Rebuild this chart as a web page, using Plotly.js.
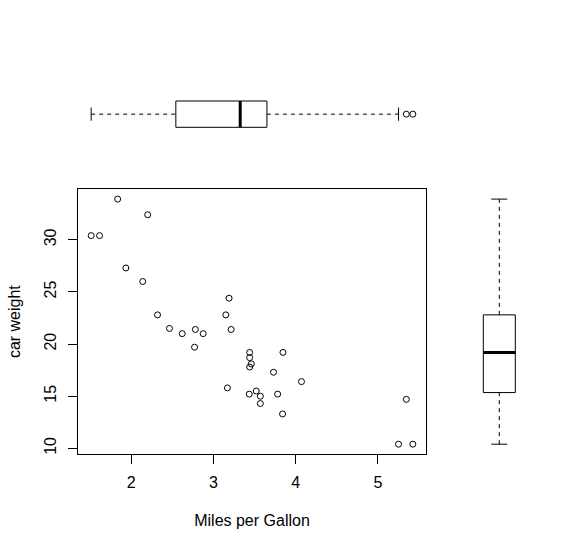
<!DOCTYPE html>
<html>
<head>
<meta charset="utf-8">
<script src="https://cdn.plot.ly/plotly-3.0.1.min.js"></script>
<style>html,body{margin:0;padding:0;background:#fff}#chart{width:582px;height:552px}</style>
</head>
<body>
<div id="chart"></div>
<script>
// mtcars: weight (x axis, labelled "Miles per Gallon") and mpg (y axis, labelled "car weight")
const xValues = [2.620, 2.875, 2.320, 3.215, 3.440, 3.460, 3.570, 3.190, 3.150, 3.440, 3.440, 4.070, 3.730, 3.780, 5.250, 5.424, 5.345, 2.200, 1.615, 1.835, 2.465, 3.520, 3.435, 3.840, 3.845, 1.935, 2.140, 1.513, 3.170, 2.770, 3.570, 2.780];
const yValues = [21.0, 21.0, 22.8, 21.4, 18.7, 18.1, 14.3, 24.4, 22.8, 19.2, 17.8, 16.4, 17.3, 15.2, 10.4, 10.4, 14.7, 32.4, 30.4, 33.9, 21.5, 15.5, 15.2, 13.3, 19.2, 27.3, 26.0, 30.4, 15.8, 19.7, 15.0, 21.4];
const xTicks = [2, 3, 4, 5];
const yTicks = [10, 15, 20, 25, 30];
const xTitle = "Miles per Gallon";
const yTitle = "car weight";

function fivenum(a) {
  const s = a.slice().sort((p, q) => p - q);
  const n = s.length;
  const n4 = Math.floor((n + 3) / 2) / 2;
  const d = [1, n4, (n + 1) / 2, n + 1 - n4, n];
  return d.map(v => 0.5 * (s[Math.floor(v) - 1] + s[Math.ceil(v) - 1]));
}
function boxStats(a) {
  const f = fivenum(a);
  const iqr = f[3] - f[1];
  const lo = f[1] - 1.5 * iqr, hi = f[3] + 1.5 * iqr;
  const inside = a.filter(v => v >= lo && v <= hi);
  return {
    q1: f[1], med: f[2], q3: f[3],
    wlo: Math.min(...inside), whi: Math.max(...inside),
    out: a.filter(v => v < lo || v > hi)
  };
}
function rng(a) {
  const mn = Math.min(...a), mx = Math.max(...a), e = 0.04 * (mx - mn);
  return [mn - e, mx + e];
}

// box plot traces; "horizontal" means values along x
function boxTraces(a, horizontal, xa, ya) {
  const b = boxStats(a);
  const c = 1, w0 = 0.6, w1 = 1.4, s0 = 0.8, s1 = 1.2;
  const solidV = [b.q1, b.q3, b.q3, b.q1, b.q1, null, b.wlo, b.wlo, null, b.whi, b.whi];
  const solidP = [w0, w0, w1, w1, w0, null, s0, s1, null, s0, s1];
  const dashV = [b.wlo, b.q1, null, b.q3, b.whi];
  const dashP = [c, c, null, c, c];
  const medV = [b.med, b.med], medP = [w0, w1];
  const outV = b.out, outP = b.out.map(() => c);
  const mk = (v, p) => horizontal ? {x: v, y: p} : {x: p, y: v};
  const base = {xaxis: xa, yaxis: ya, hoverinfo: 'skip', showlegend: false, cliponaxis: false};
  return [
    Object.assign({}, base, mk(solidV, solidP), {type: 'scatter', mode: 'lines', connectgaps: false, line: {color: '#000', width: 1}}),
    Object.assign({}, base, mk(dashV, dashP), {type: 'scatter', mode: 'lines', connectgaps: false, line: {color: '#000', width: 1, dash: '4px,4px'}}),
    Object.assign({}, base, mk(medV, medP), {type: 'scatter', mode: 'lines', line: {color: '#000', width: 3}}),
    Object.assign({}, base, mk(outV, outP), {type: 'scatter', mode: 'markers', marker: {symbol: 'circle-open', size: 6, color: '#000', line: {width: 1, color: '#000'}}})
  ];
}

const W = 582, H = 552;
const fx = px => px / W, fy = px => (H - px) / H;
const font = {family: 'Liberation Sans, Arial, sans-serif', size: 16, color: '#000'};

const scatter = {
  type: 'scatter', mode: 'markers', x: xValues, y: yValues, xaxis: 'x', yaxis: 'y',
  marker: {symbol: 'circle-open', size: 6, color: '#000', line: {width: 1, color: '#000'}},
  hoverinfo: 'skip', showlegend: false, cliponaxis: false
};

const data = [scatter]
  .concat(boxTraces(xValues, true, 'x2', 'y2'))
  .concat(boxTraces(yValues, false, 'x3', 'y3'));

const xr = rng(xValues), yr = rng(yValues);
const hidden = {visible: true, showline: false, showticklabels: false, ticks: '', showgrid: false, zeroline: false};

const layout = {
  width: W, height: H,
  margin: {l: 0, r: 0, t: 0, b: 0},
  paper_bgcolor: '#fff', plot_bgcolor: '#fff',
  font: font,
  showlegend: false,
  xaxis: {
    domain: [fx(78.3), fx(425.7)], anchor: 'y', range: xr,
    tickmode: 'array', tickvals: xTicks, ticktext: xTicks.map(String),
    ticks: 'outside', ticklen: 9, tickwidth: 1, tickcolor: '#000',
    showline: true, mirror: true, linecolor: '#000', linewidth: 1,
    showgrid: false, zeroline: false, tickfont: font, ticklabelstandoff: 5,
    title: {text: xTitle, font: font, standoff: 24}, automargin: false
  },
  yaxis: {
    domain: [fy(454), fy(189.3)], anchor: 'x', range: yr,
    tickmode: 'array', tickvals: yTicks, ticktext: yTicks.map(String), tickangle: -90,
    ticks: 'outside', ticklen: 9, tickwidth: 1, tickcolor: '#000',
    showline: true, mirror: true, linecolor: '#000', linewidth: 1,
    showgrid: false, zeroline: false, tickfont: font, ticklabelstandoff: 6,
    title: {text: yTitle, font: font, standoff: 17}, automargin: false
  },
  xaxis2: Object.assign({}, hidden, {domain: [fx(78.3), fx(425.7)], anchor: 'y2', range: xr}),
  yaxis2: Object.assign({}, hidden, {domain: [fy(131.9), fy(96.4)], anchor: 'x2', range: [0.46, 1.54]}),
  xaxis3: Object.assign({}, hidden, {domain: [fx(477.7), fx(520.9)], anchor: 'y3', range: [0.46, 1.54]}),
  yaxis3: Object.assign({}, hidden, {domain: [fy(454), fy(189.3)], anchor: 'x3', range: yr})
};

Plotly.newPlot('chart', data, layout, {staticPlot: true, displayModeBar: false});
</script>
</body>
</html>
